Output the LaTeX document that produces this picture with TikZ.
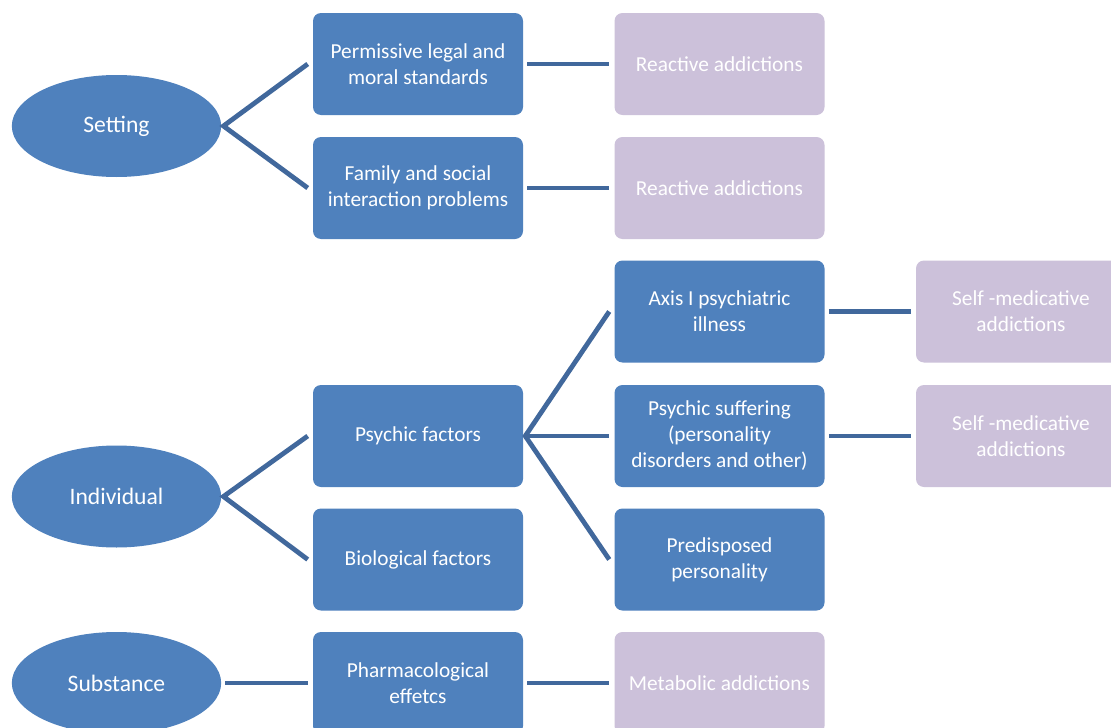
\documentclass[tikz,border=0pt]{standalone}
\usepackage{fontspec}
\setmainfont{Carlito}
\usetikzlibrary{shapes.geometric,calc}
\definecolor{boxblue}{RGB}{79,129,189}
\definecolor{lav}{RGB}{204,193,218}
\definecolor{linkblue}{RGB}{65,104,156}
\tikzset{
  bluebox/.style={rectangle,rounded corners=6pt,fill=boxblue,text=white,minimum width=157.5pt,minimum height=76.5pt,align=center,font=\fontsize{16}{19.5}\selectfont,inner sep=2pt},
  lavbox/.style={bluebox,fill=lav},
  oval/.style={ellipse,fill=boxblue,text=white,minimum width=157pt,minimum height=76.5pt,font=\fontsize{17.7}{21}\selectfont,inner sep=0pt},
  link/.style={draw=linkblue,line width=3.6pt}
}
\begin{document}
\begin{tikzpicture}[x=0.75pt,y=-0.75pt]
\useasboundingbox (0,0) rectangle (1111,728);
\clip (0,0) rectangle (1111,728);
\fill[white] (0,0) rectangle (1111,728);
% ellipses
\node[oval] (set) at (116.5,126) {Setting};
\node[oval] (ind) at (116.5,496.5) {Individual};
\node[oval] (sub) at (116.5,683) {Substance};
% column 1
\node[bluebox] (perm) at (418,64) {Permissive legal and\\moral standards};
\node[bluebox] (fam) at (418,188) {Family and social\\interaction problems};
\node[bluebox] (psy) at (418,436) {Psychic factors};
\node[bluebox] (bio) at (418,559.5) {Biological factors};
\node[bluebox] (pha) at (418,683) {Pharmacological\\effetcs};
% column 2
\node[lavbox] (r1) at (719.5,64) {Reactive addictions};
\node[lavbox] (r2) at (719.5,188) {Reactive addictions};
\node[bluebox] (axis) at (719.5,311.5) {Axis I psychiatric\\illness};
\node[bluebox] (suf) at (719.5,436) {Psychic suffering\\(personality\\disorders and other)};
\node[bluebox] (pre) at (719.5,559.5) {Predisposed\\personality};
\node[lavbox] (met) at (719.5,683) {Metabolic addictions};
% column 3
\node[lavbox] (s1) at (1021,311.5) {Self -medicative\\addictions};
\node[lavbox] (s2) at (1021,436) {Self -medicative\\addictions};
% connectors
\coordinate (sa) at ($(set.east)+(2,0)$);
\draw[link] ($(perm.west)+(-5,0)$) -- (sa) -- ($(fam.west)+(-5,0)$);
\coordinate (ia) at ($(ind.east)+(2,0)$);
\draw[link] ($(psy.west)+(-5,0)$) -- (ia) -- ($(bio.west)+(-5,0)$);
\coordinate (pa) at ($(psy.east)+(2,0)$);
\draw[link] ($(axis.west)+(-5,0)$) -- (pa) -- ($(pre.west)+(-5,0)$);
\draw[link] (pa) -- ($(suf.west)+(-5,0)$);
\draw[link] ($(sub.east)+(4,0)$) -- ($(pha.west)+(-5,0)$);
\draw[link] ($(pha.east)+(4,0)$) -- ($(met.west)+(-5,0)$);
\draw[link] ($(perm.east)+(4,0)$) -- ($(r1.west)+(-5,0)$);
\draw[link] ($(fam.east)+(4,0)$) -- ($(r2.west)+(-5,0)$);
\draw[link] ($(axis.east)+(4,0)$) -- ($(s1.west)+(-5,0)$);
\draw[link] ($(suf.east)+(4,0)$) -- ($(s2.west)+(-5,0)$);
\end{tikzpicture}
\end{document}
